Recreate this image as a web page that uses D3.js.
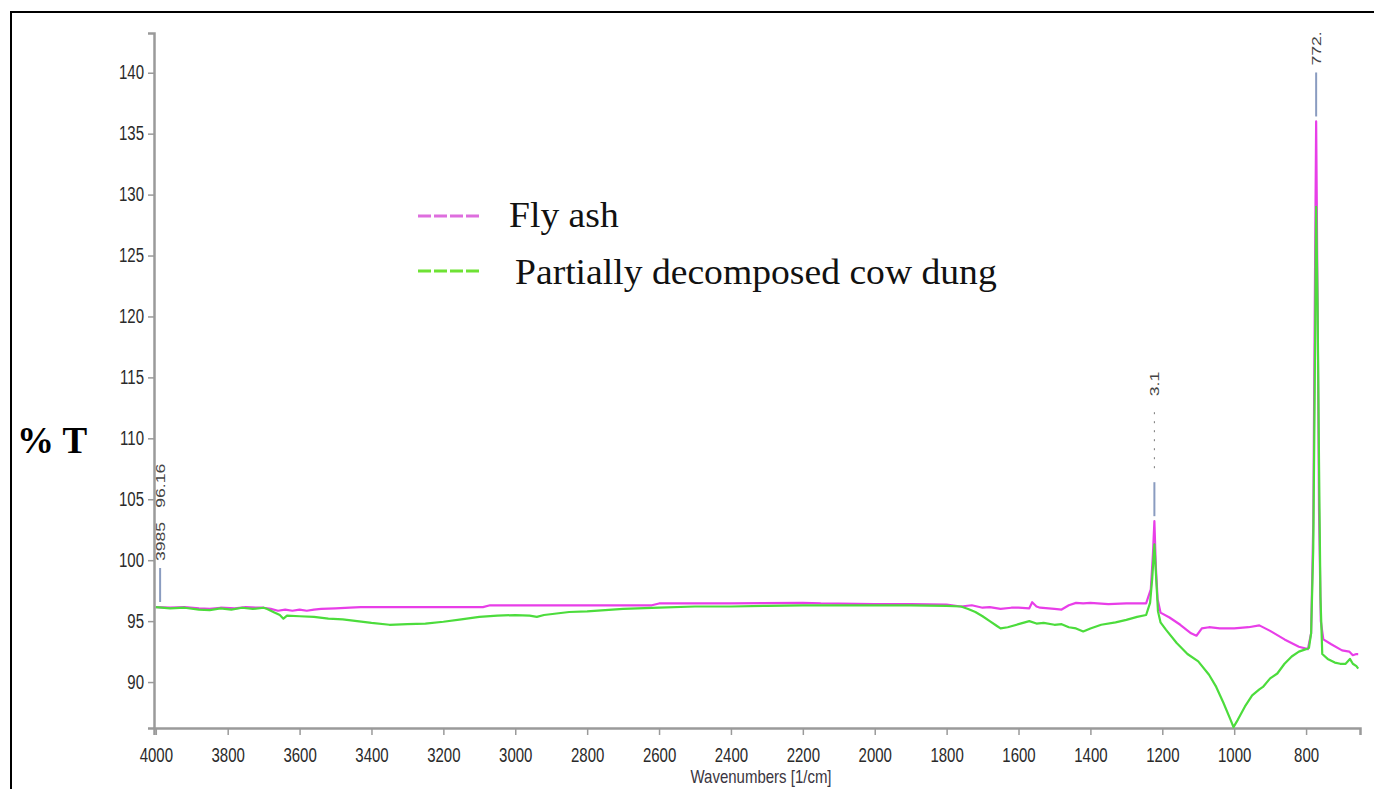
<!DOCTYPE html>
<html>
<head>
<meta charset="utf-8">
<script src="https://cdn.jsdelivr.net/npm/d3@7"></script>
<style>
  html, body { margin: 0; padding: 0; background: #fff; }
  svg { display: block; }
</style>
</head>
<body>
<div id="chart"></div>
<script>
// ── DATA ─────────────────────────────────────────────────────────
const flyAshWn = [4000,3960,3920,3880,3850,3820,3780,3750,3720,3700,3680,3660,3640,3620,3600,3580,3560,3540,3500,3460,3430,3300,3200,3090,3070,2900,2800,2620,2600,2400,2200,2150,2000,1900,1800,1760,1730,1700,1680,1650,1620,1600,1570,1562,1550,1540,1500,1480,1460,1440,1420,1400,1350,1300,1245,1232,1226,1222,1218,1213,1205,1180,1150,1120,1105,1090,1070,1040,1000,960,930,900,860,820,795,786,780,776,772,768,764,759,752,730,700,680,670,660,655];
const flyAshT  = [96.15,96.1,96.15,96.05,96.0,96.1,96.05,96.15,96.1,96.1,96.0,95.85,95.95,95.85,95.95,95.85,95.95,96.0,96.05,96.1,96.15,96.15,96.15,96.15,96.3,96.3,96.3,96.3,96.45,96.45,96.5,96.45,96.4,96.4,96.35,96.2,96.3,96.1,96.15,96.0,96.1,96.1,96.05,96.55,96.2,96.1,96.0,95.95,96.3,96.5,96.45,96.5,96.4,96.45,96.45,97.6,100.5,103.2,99.5,96.8,95.7,95.3,94.7,94.0,93.8,94.4,94.5,94.4,94.4,94.5,94.65,94.2,93.5,92.9,92.7,94,103,120,136,121,104,95,93.5,93.1,92.6,92.5,92.2,92.3,92.3];

const cowDungWn = [4000,3960,3920,3880,3850,3820,3790,3760,3730,3700,3690,3670,3655,3645,3635,3600,3560,3520,3480,3440,3400,3350,3300,3250,3200,3150,3100,3050,3000,2960,2940,2920,2850,2800,2700,2600,2500,2400,2300,2200,2100,2000,1900,1800,1760,1740,1720,1700,1680,1660,1650,1630,1600,1570,1550,1530,1500,1480,1460,1440,1420,1400,1370,1330,1300,1270,1245,1234,1228,1222,1217,1212,1205,1190,1160,1130,1100,1070,1050,1030,1010,1002,990,970,950,930,920,900,880,860,840,820,800,792,786,780,776,772,768,764,760,755,740,720,705,690,678,670,660,655];
const cowDungT  = [96.15,96.05,96.1,95.95,95.9,96.05,95.95,96.1,96.0,96.1,96.0,95.7,95.5,95.2,95.45,95.4,95.35,95.2,95.15,95.0,94.85,94.7,94.75,94.8,94.95,95.15,95.35,95.45,95.5,95.45,95.35,95.5,95.75,95.8,96.0,96.1,96.2,96.2,96.25,96.3,96.3,96.3,96.3,96.25,96.2,96.0,95.75,95.4,95.0,94.6,94.4,94.5,94.75,95.0,94.8,94.85,94.7,94.75,94.5,94.4,94.15,94.4,94.7,94.9,95.1,95.35,95.5,96.5,98.5,101.3,98.5,95.8,94.9,94.3,93.2,92.3,91.7,90.6,89.6,88.3,86.9,86.3,86.9,88.0,88.9,89.4,89.6,90.3,90.7,91.5,92.1,92.5,92.7,92.8,94,101,114,129,121,108,97,92.3,91.9,91.6,91.5,91.5,91.9,91.5,91.3,91.1];

const xTicks = [4000,3800,3600,3400,3200,3000,2800,2600,2400,2200,2000,1800,1600,1400,1200,1000,800];
const yTicks = [90,95,100,105,110,115,120,125,130,135,140];

const seriesNames = ['Fly ash', 'Partially decomposed cow dung'];

// peak markers from the instrument software
const peakWn    = [3988, 1222, 772];
const peakValue = [96.16, 103.2, 136];
const peakText  = [['3985', '96.16'], ['3.1'], ['772.']];

// ── LAYOUT ───────────────────────────────────────────────────────
const W = 1374, H = 789;
const colors = { fly: '#e83ee8', cow: '#4cdc3c', legFly: '#de6ede', legCow: '#6ee234',
                 axis: '#9a9a9a', tick: '#2a2a2a', peak: '#8a9cc0' };

const svg = d3.select('#chart').append('svg')
  .attr('width', W).attr('height', H)
  .attr('viewBox', `0 0 ${W} ${H}`);

svg.append('rect').attr('width', W).attr('height', H).attr('fill', '#fff');

// outer frame (runs off the right / bottom edge like the scan)
svg.append('rect')
  .attr('x', 11).attr('y', 12).attr('width', 1400).attr('height', 820)
  .attr('fill', 'none').attr('stroke', '#000').attr('stroke-width', 2);

const x = d3.scaleLinear().domain([4005, 650]).range([154, 1360]);
const y = d3.scaleLinear().domain([86.23, 143.26]).range([728, 33]);

// ── AXES ─────────────────────────────────────────────────────────
const xMinor = d3.range(4000, 650, -50);
const yMinor = d3.range(87.5, 143.2, 1.25);

const gx = svg.append('g').attr('transform', `translate(0,${y.range()[0]})`);
gx.call(d3.axisBottom(x).tickValues(xMinor).tickSize(4).tickFormat(''));
gx.call(d3.axisBottom(x).tickValues(xTicks).tickSize(7).tickFormat(d3.format('d')));

const gy = svg.append('g').attr('transform', `translate(${x.range()[0]},0)`);
gy.call(d3.axisLeft(y).tickValues(yMinor).tickSize(4).tickFormat(''));
gy.call(d3.axisLeft(y).tickValues(yTicks).tickSize(6).tickFormat(d3.format('d')));

[gx, gy].forEach(g => {
  g.selectAll('.domain').attr('stroke', colors.axis).attr('stroke-width', 2.5);
  g.selectAll('.tick line').attr('stroke', colors.axis).attr('stroke-width', 1.5);
  g.selectAll('.tick text')
    .attr('fill', colors.tick)
    .attr('font-family', "'Liberation Sans', Arial, sans-serif")
    .attr('font-size', 15);
});
// text in the scan is squeezed sideways, so stretch it vertically a bit
gx.selectAll('.tick text')
  .attr('y', 0).attr('dy', '0.36em')
  .attr('transform', 'translate(0,27) scale(1,1.3)');
gy.selectAll('.tick text')
  .attr('x', -10)
  .attr('transform', 'scale(1,1.3)');

svg.append('text')
  .attr('transform', 'translate(761,776) scale(1,1.25)')
  .attr('text-anchor', 'middle').attr('dy', '0.36em')
  .attr('font-family', "'Liberation Sans', Arial, sans-serif")
  .attr('font-size', 15).attr('fill', '#3a3540')
  .text('Wavenumbers [1/cm]');

svg.append('text')
  .attr('x', 17).attr('y', 453)
  .attr('font-family', "'Liberation Serif', 'Times New Roman', serif")
  .attr('font-weight', 'bold').attr('font-size', 37).attr('fill', '#000')
  .text('% T');

// ── SPECTRA ──────────────────────────────────────────────────────
const line = d3.line().x(d => x(d[0])).y(d => y(d[1]));

// green is painted over magenta in the original
const series = [
  { pts: d3.zip(flyAshWn, flyAshT),   color: colors.fly },
  { pts: d3.zip(cowDungWn, cowDungT), color: colors.cow },
];
svg.append('g').selectAll('path').data(series).enter().append('path')
  .attr('d', d => line(d.pts))
  .attr('fill', 'none')
  .attr('stroke', d => d.color)
  .attr('stroke-width', 2.2)
  .attr('stroke-linejoin', 'round');

// ── PEAK MARKERS ─────────────────────────────────────────────────
const leader = { 1222: 72 };   // dotted leader where the label got clipped
peakWn.forEach((wn, i) => {
  const px = x(wn);
  const bottom = y(peakValue[i]) - 5;
  const top = bottom - (wn === 772 ? 44 : 34);
  svg.append('line')
    .attr('x1', px).attr('x2', px).attr('y1', bottom).attr('y2', top)
    .attr('stroke', colors.peak).attr('stroke-width', 2);
  let textStart = top - 7;
  if (leader[wn]) {
    svg.append('line')
      .attr('x1', px).attr('x2', px).attr('y1', top - 14).attr('y2', top - 14 - leader[wn] + 14)
      .attr('stroke', '#777').attr('stroke-width', 1)
      .attr('stroke-dasharray', '2,7');
    textStart = top - 14 - leader[wn];
  }
  const t = svg.append('text')
    .attr('transform', `translate(${px},${textStart}) rotate(-90) scale(1.3,1)`)
    .attr('dy', '0.36em')
    .attr('font-family', "'Liberation Sans', Arial, sans-serif")
    .attr('font-size', 13.5).attr('fill', '#444');
  peakText[i].forEach((s, j) => {
    t.append('tspan').attr('dx', j ? 11 : 0).text(s);
  });
});

// ── LEGEND ───────────────────────────────────────────────────────
const legY = [216, 271];
const legTextPos = [[509, 227], [515, 284]];
[colors.legFly, colors.legCow].forEach((c, i) => {
  svg.append('line')
    .attr('x1', 418).attr('x2', 482).attr('y1', legY[i]).attr('y2', legY[i])
    .attr('stroke', c).attr('stroke-width', 3)
    .attr('stroke-dasharray', '13,3');
  svg.append('text')
    .attr('transform', `translate(${legTextPos[i][0]},${legTextPos[i][1]}) scale(1.06,1)`)
    .attr('font-family', "'Liberation Serif', 'Times New Roman', serif")
    .attr('font-size', 35.5).attr('fill', '#111')
    .text(seriesNames[i]);
});
</script>
</body>
</html>
